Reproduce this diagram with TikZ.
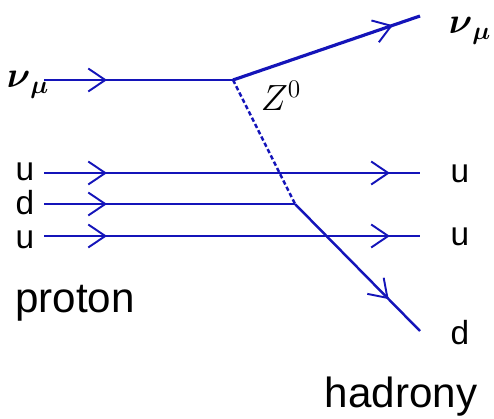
\documentclass[tikz,border=0pt]{standalone}
\usepackage{amsmath}
\usepackage{fontspec}
\setmainfont{Liberation Sans}
\usetikzlibrary{arrows.meta, decorations.markings, positioning}

\definecolor{quark}{RGB}{20,20,185}

\tikzset{
    chev/.tip={Straight Barb[length=3.4mm,width=4.6mm,line width=1.1pt]},
    line/.style={quark, line width=1.1pt},
    arr/.style={postaction={decorate,decoration={markings,
        mark=at position #1 with {\arrow{chev}}}}},
    lbl/.style={inner sep=0pt, font=\fontsize{24}{26}\selectfont},
    qlbl/.style={inner sep=0pt, font=\fontsize{19}{20}\selectfont},
    mlbl/.style={inner sep=0pt, font=\fontsize{22}{24}\selectfont}
}

\begin{document}
\begin{tikzpicture}[x=0.02cm, y=-0.02cm]
    \useasboundingbox (0,0) rectangle (494,419);

    % vertices and line ends
    \coordinate (nuin)  at (44,80);
    \coordinate (vtx)   at (233,80);
    \coordinate (nuout) at (420,16);
    \coordinate (uAin)  at (44,173);
    \coordinate (uAout) at (420,173);
    \coordinate (din)   at (44,204);
    \coordinate (dvtx)  at (295,204);
    \coordinate (uBin)  at (44,236);
    \coordinate (uBout) at (420,236);
    \coordinate (dout)  at (420,331);

    % labels
    \node[mlbl] (lnu) at (28,85) {$\boldsymbol{\nu}_{\boldsymbol{\mu}}$};
    \node[mlbl] (rnu) at (470,31) {$\boldsymbol{\nu}_{\boldsymbol{\mu}}$};
    \node[mlbl] (zlbl) at (281,96) {$Z^0$};
    \node[qlbl] (luA) at (25,172) {u};
    \node[qlbl] (ld)  at (25,203) {d};
    \node[qlbl] (luB) at (25,240) {u};
    \node[qlbl] (ruA) at (460,174) {u};
    \node[qlbl] (ruB) at (460,237) {u};
    \node[qlbl] (rd)  at (460,333) {d};
    \node[lbl] (proton) at (75,303) {proton};
    \node[lbl] (hadr) at (401,397) {hadrony};

    % neutrino
    \draw[line, arr=1.26cm] (nuin) -- (vtx);
    \draw[line, line width=1.8pt, arr=3.38cm] (vtx) -- (nuout);

    % exchanged boson
    \draw[quark, line width=1.4pt, dash pattern=on 2.5pt off 1.5pt] (vtx) -- (dvtx);

    % quarks
    \draw[line, arr=1.26cm, arr=6.92cm] (uAin) -- (uAout);
    \draw[line, arr=1.26cm] (din) -- (dvtx);
    \draw[line, arr=1.26cm, arr=6.92cm] (uBin) -- (uBout);
    \draw[line, line width=1.4pt, arr=2.67cm] (dvtx) -- (dout);
\end{tikzpicture}
\end{document}
